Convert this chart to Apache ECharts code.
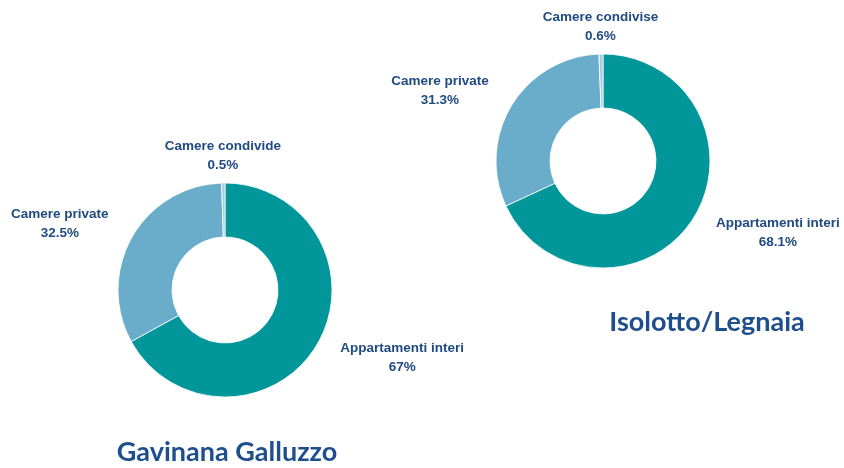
<!DOCTYPE html>
<html lang="it">
<head>
    <meta charset="UTF-8">
    <title>Tipologia alloggi</title>
    <script src="https://cdn.jsdelivr.net/npm/echarts@6/dist/echarts.min.js"></script>
    <style>
        html, body { margin: 0; padding: 0; background: #fff; }
    </style>
</head>
<body>
<div id="main" style="width: 844px;height:468px;"></div>
<script type="text/javascript">
    // dati
    var categorie = ['Appartamenti interi', 'Camere private', 'Camere condivise'];
    var quartieri = ['Gavinana Galluzzo', 'Isolotto/Legnaia'];
    var valoriGavinana = [67, 32.5, 0.5];
    var valoriIsolotto = [68.1, 31.3, 0.6];
    // nel primo grafico l'etichetta originale dice "condivide"
    var nomiGavinana = ['Appartamenti interi', 'Camere private', 'Camere condivide'];

    var colori = ['#00969a', '#6aadca', '#a8cbe3'];
    var coloreTesto = '#1f4a82';

    var centri = [[225, 290], [603, 161]];
    var raggio = 107, raggioInterno = 53, distanza = 27;

    function angoliMedi(valori) {
        var tot = valori.reduce(function (a, b) { return a + b; }, 0);
        var acc = 0;
        return valori.map(function (v) {
            var m = (acc + v / 2) / tot * 360;
            acc += v;
            return m;
        });
    }
    var angoli = [angoliMedi(valoriGavinana), angoliMedi(valoriIsolotto)];

    // etichetta ancorata sul bordo verso la fetta, righe centrate tra loro
    function posEtichetta(params) {
        var s = params.seriesIndex;
        var a = angoli[s][params.dataIndex] * Math.PI / 180;
        var dx = Math.sin(a), dy = -Math.cos(a);
        var r = raggio + distanza;
        var x = centri[s][0] + dx * r;
        var w = params.labelRect.width;
        if (Math.abs(dx) >= 0.2) {
            x += (dx > 0 ? 1 : -1) * w / 2;
        }
        return {
            x: x,
            y: centri[s][1] + dy * r,
            align: 'center',
            verticalAlign: 'middle'
        };
    }

    function serie(valori, nomi, idx) {
        return {
            name: quartieri[idx],
            type: 'pie',
            center: centri[idx],
            radius: [raggioInterno, raggio],
            startAngle: 90,
            clockwise: true,
            avoidLabelOverlap: false,
            silent: true,
            itemStyle: { borderColor: '#fff', borderWidth: 0.8 },
            label: {
                show: true,
                position: 'outside',
                formatter: function (p) { return p.name + '\n' + p.value + '%'; },
                color: coloreTesto,
                fontFamily: 'Liberation Sans, Arial, sans-serif',
                fontWeight: 'bold',
                fontSize: 13.5,
                lineHeight: 19,
                align: 'center'
            },
            labelLine: { show: false },
            labelLayout: posEtichetta,
            data: valori.map(function (v, i) {
                return { value: v, name: nomi[i], itemStyle: { color: colori[i] } };
            })
        };
    }

    var stileTitolo = { fontFamily: 'Lato', fontWeight: 'bold', fontSize: 27, color: '#1f4e8c' };

    var myChart = echarts.init(document.getElementById('main'));
    myChart.setOption({
        animation: false,
        backgroundColor: '#ffffff',
        color: colori,
        title: [
            { text: quartieri[0], left: 222, top: 434, textAlign: 'center', textStyle: stileTitolo },
            { text: quartieri[1], left: 702, top: 304, textAlign: 'center', textStyle: stileTitolo }
        ],
        series: [
            serie(valoriGavinana, nomiGavinana, 0),
            serie(valoriIsolotto, categorie, 1)
        ]
    });
</script>
</body>
</html>
